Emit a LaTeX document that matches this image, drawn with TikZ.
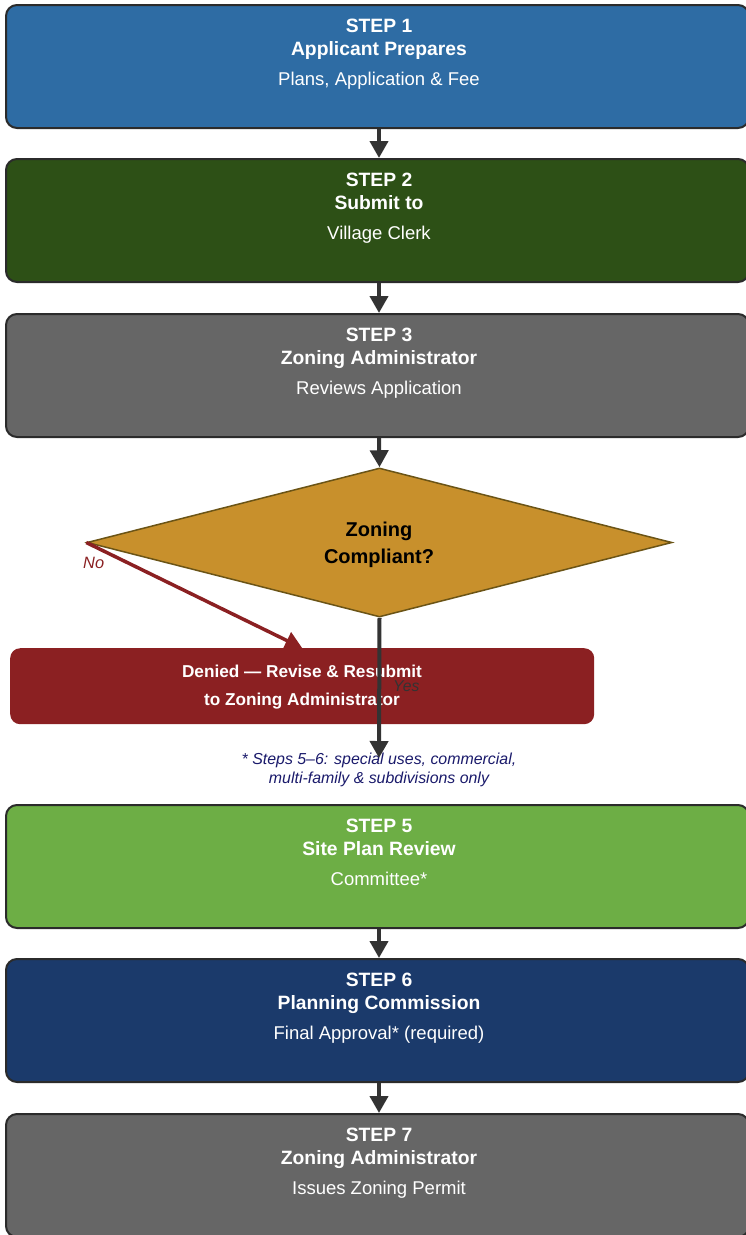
\documentclass[tikz,border=0pt]{standalone}
\usepackage{fontspec}
\setmainfont{Liberation Sans}
\usetikzlibrary{arrows.meta,shapes.geometric}
\definecolor{cOne}{HTML}{2E6CA4}
\definecolor{cTwo}{HTML}{2D5016}
\definecolor{cGray}{HTML}{666666}
\definecolor{cFive}{HTML}{6DAE45}
\definecolor{cSix}{HTML}{1B3A6B}
\definecolor{cGold}{HTML}{C8902C}
\definecolor{cGoldB}{HTML}{6B5416}
\definecolor{cRed}{HTML}{8B2022}
\definecolor{cBord}{HTML}{2B2B2B}
\definecolor{cArr}{HTML}{333333}
\definecolor{cNote}{HTML}{1A1A6B}
\newcommand\mkstep[6]{%
  \node[stepbox, fill=#3] (#1) at (5,#2) {};
  \node[ttl] (#1a) at (379,#2+28.7) {#4};
  \node[ttl] (#1b) at (379,#2+51) {#5};
  \node[sub] (#1c) at (379,#2+81) {#6};
}
\begin{document}
\begin{tikzpicture}[x=1pt,y=-1pt,
  stepbox/.style={draw=cBord, line width=2pt, rounded corners=11pt, anchor=north west,
    minimum width=743pt, minimum height=123pt, inner sep=0pt},
  ttl/.style={text=white, font=\fontsize{19.3}{22}\selectfont\bfseries, anchor=base, inner sep=0pt},
  sub/.style={text=white, font=\fontsize{18.5}{22}\selectfont, anchor=base, inner sep=0pt},
  flow/.style={draw=cArr, line width=4pt, -{Triangle[width=18pt,length=17pt]}},
  noflow/.style={draw=cRed, line width=3.5pt, -{Triangle[width=18pt,length=17pt]}},
  dtxt/.style={text=white, font=\fontsize{17.2}{20}\selectfont\bfseries, anchor=base, inner sep=0pt},
  ntxt/.style={text=cNote, font=\fontsize{15.9}{19}\selectfont\itshape, anchor=base, inner sep=0pt},
]
\clip (0,0) rectangle (746,1235);
\fill[white] (0,0) rectangle (746,1235);
\coordinate (cx) at (379,0);

\mkstep{b1}{4}{cOne}{STEP 1}{Applicant Prepares}{Plans, Application \& Fee}
\mkstep{b2}{158}{cTwo}{STEP 2}{Submit to}{Village Clerk}
\mkstep{b3}{313}{cGray}{STEP 3}{Zoning Administrator}{Reviews Application}

\node[diamond, minimum width=585pt, minimum height=149pt, inner sep=0pt,
  fill=cGold, draw=cGoldB, line width=1.5pt] (dia) at (379.5,542.5) {};
\node[anchor=base, inner sep=0pt, font=\fontsize{20}{24}\selectfont\bfseries] (dq1) at (379,536) {Zoning};
\node[anchor=base, inner sep=0pt, font=\fontsize{20}{24}\selectfont\bfseries] (dq2) at (379,563) {Compliant?};

\node[fill=cRed, rounded corners=10pt, anchor=north west, minimum width=584pt,
  minimum height=76pt, inner sep=0pt] (den) at (10,648) {};
\node[dtxt] (den1) at (302,677) {Denied — Revise \& Resubmit};
\node[dtxt] (den2) at (302,705) {to Zoning Administrator};

\mkstep{b5}{804}{cFive}{STEP 5}{Site Plan Review}{Committee*}
\mkstep{b6}{958}{cSix}{STEP 6}{Planning Commission}{Final Approval* (required)}
\mkstep{b7}{1113}{cGray}{STEP 7}{Zoning Administrator}{Issues Zoning Permit}

\node[ntxt] (n1) at (379,764) {* Steps 5–6: special uses, commercial,};
\node[ntxt] (n2) at (379,783) {multi-family \& subdivisions only};
\coordinate (yesend) at (379,758);

\draw[flow] (b1.south -| cx) -- (b2.north -| cx);
\draw[flow] (b2.south -| cx) -- (b3.north -| cx);
\draw[flow] (b3.south -| cx) -- (dia.north);
\draw[noflow] (dia.west) -- (den.north);
\draw[flow] (dia.south) -- (yesend);
\draw[flow] (b5.south -| cx) -- (b6.north -| cx);
\draw[flow] (b6.south -| cx) -- (b7.north -| cx);

\node[anchor=base west, inner sep=0pt, text=cRed, font=\fontsize{16.4}{19}\selectfont\itshape] (no) at (83,568) {No};
\node[anchor=base west, inner sep=0pt, text=cArr, font=\fontsize{15.7}{19}\selectfont\itshape] (yes) at (393,691) {Yes};
\end{tikzpicture}
\end{document}
